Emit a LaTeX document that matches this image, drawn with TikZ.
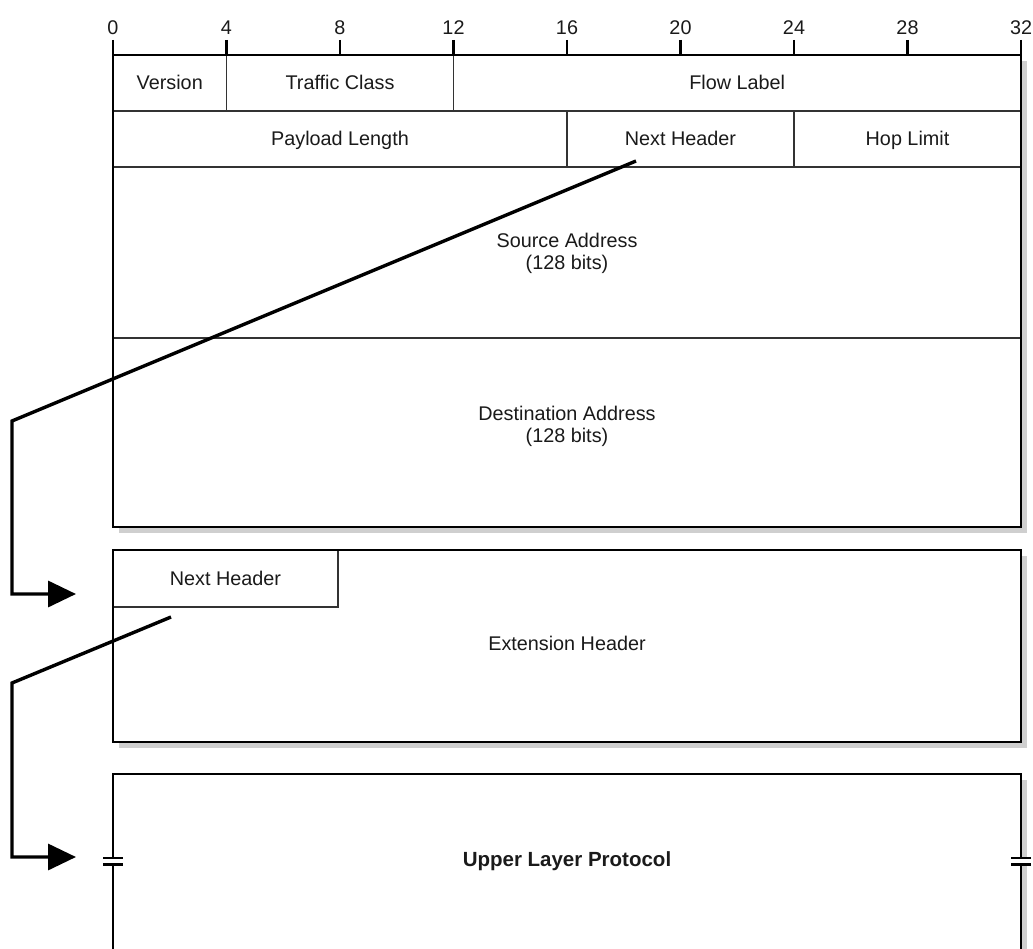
\documentclass[tikz,border=0pt]{standalone}
\usepackage{fontspec}
\setmainfont{Liberation Sans}
\usetikzlibrary{arrows.meta}
\newcommand{\fieldfont}{\fontsize{19.8}{22}\selectfont}
\newcommand{\boldfieldfont}{\fontsize{20.5}{22}\selectfont\bfseries}
\definecolor{shadowgrey}{HTML}{CFCFCF}
\definecolor{rulegrey}{HTML}{333333}
\definecolor{inkgrey}{HTML}{1A1A1A}
\tikzset{
  fld/.style={draw=rulegrey, line width=1.3pt, inner sep=0pt, align=center,
              font=\fieldfont, text=inkgrey, text height=16pt, text depth=2pt},
  txt/.style={inner sep=0pt, align=center, font=\fieldfont, text=inkgrey},
  outer/.style={draw=black, line width=2.7pt, line join=miter},
  shadowfill/.style={fill=shadowgrey},
  tickline/.style={draw=black, line width=2.2pt},
  breakmark/.style={draw=black, line width=2.4pt},
  conn/.style={draw=black, line width=3.4pt, line join=miter,
               -{Triangle[length=28pt,width=26pt]}},
}
\begin{document}
\begin{tikzpicture}[x=1pt,y=-1pt]
\useasboundingbox (0,0) rectangle (1033,949);

% ---------- IPv6 base header ----------
\fill[shadowfill] (119,61) rectangle (1027,533);
\fill[white] (113,55) rectangle (1021,527);

% bit ruler
\foreach \b in {0,4,...,32}{
  \draw[tickline] ({113+28.375*\b},40) -- ({113+28.375*\b},55);
  \node[txt] at ({113+28.375*\b},27.5) {\b};
}

% fields
\node[fld, minimum width=113.5pt, minimum height=56pt] (ver) at (169.75,83) {Version};
\node[fld, minimum width=227pt,   minimum height=56pt] (tc)  at (340,83)    {Traffic Class};
\node[fld, minimum width=567.5pt, minimum height=56pt] (fl)  at (737.25,83) {Flow Label};
\node[fld, minimum width=454pt,   minimum height=56pt] (pl)  at (340,139)   {Payload Length};
\node[fld, minimum width=227pt,   minimum height=56pt] (nh)  at (680.5,139) {Next Header};
\node[fld, minimum width=227pt,   minimum height=56pt] (hop) at (907.5,139) {Hop Limit};
\node[fld, minimum width=908pt,   minimum height=171pt] (src) at (567,252.5) {};
\node[fld, minimum width=908pt,   minimum height=189pt] (dst) at (567,432.5) {};
\node[txt] (srctxt) at (567,253) {Source Address\\(128 bits)};
\node[txt] (dsttxt) at (567,426) {Destination Address\\(128 bits)};

\draw[outer] (113,55) rectangle (1021,527);

% ---------- extension header ----------
\fill[shadowfill] (119,556) rectangle (1027,748);
\node[fld, draw=none, fill=white, minimum width=908pt, minimum height=192pt] (ext) at (567,646) {};
\node[txt] (exttxt) at (567,643) {Extension Header};
\node[fld, minimum width=225pt, minimum height=57pt] (nh2) at (225.5,578.5) {Next Header};
\draw[outer] (113,550) rectangle (1021,742);

% ---------- upper layer protocol ----------
\fill[shadowfill] (1021,780) rectangle (1027,960);
\draw[outer] (113,960) -- (113,774) -- (1021,774) -- (1021,960);
\node[txt, font=\boldfieldfont] (ulp) at (567,861) {Upper Layer Protocol};

% break marks on both sides
\fill[white] (100,858) rectangle (126,864.5);
\draw[breakmark] (103,858) -- (123,858);
\draw[breakmark] (103,864.5) -- (123,864.5);
\fill[white] (1008,858) rectangle (1033,864.5);
\draw[breakmark] (1011,858) -- (1031,858);
\draw[breakmark] (1011,864.5) -- (1031,864.5);

% ---------- Next Header pointers ----------
\coordinate (p1) at (636,161);
\coordinate (t1) at (76,594);
\coordinate (p2) at (171,617);
\coordinate (t2) at (76,857);
\draw[conn] (p1) -- (12,421) -- (12,594) -- (t1);
\draw[conn] (p2) -- (12,683) -- (12,857) -- (t2);
\end{tikzpicture}
\end{document}
